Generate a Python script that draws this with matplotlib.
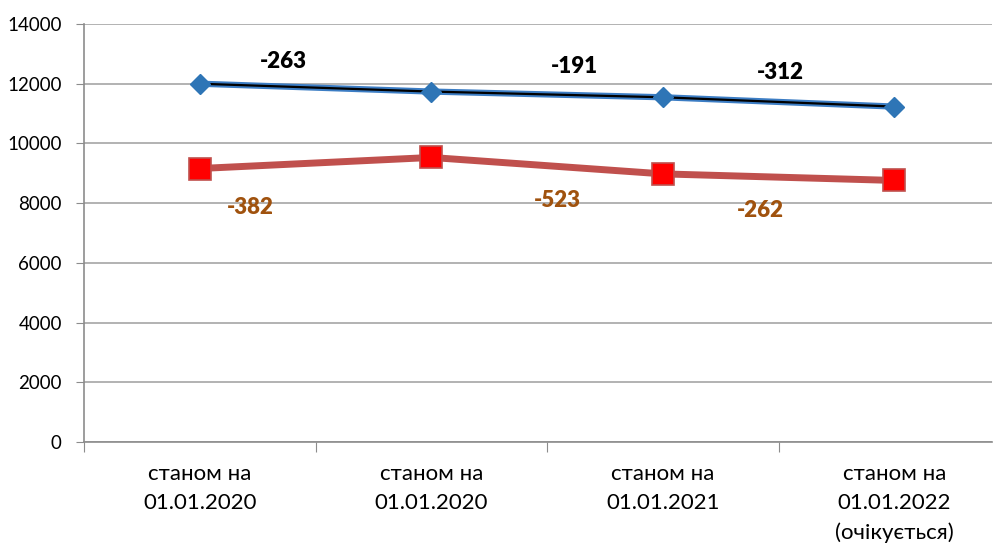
import matplotlib.pyplot as plt
from matplotlib.ticker import FixedLocator

plt.rcParams['font.family'] = ['Lato', 'DejaVu Sans']

# data
categories = ['станом на\n01.01.2020', 'станом на\n01.01.2020',
              'станом на\n01.01.2021', 'станом на\n01.01.2022\n(очікується)']
blue_vals = [12000, 11737, 11546, 11234]
red_vals = [9160, 9530, 8980, 8760]

# change labels: text, x (category units), y (data units)
blue_notes = ['-263', '-191', '-312']
blue_note_x = [0.36, 1.62, 2.51]
blue_note_y = [12730, 12560, 12360]
red_notes = ['-382', '-523', '-262']
red_note_x = [0.22, 1.545, 2.42]
red_note_y = [7840, 8100, 7770]

fig = plt.figure(figsize=(9.96, 5.52), dpi=100)
ax = fig.add_axes([84 / 996, 1 - 442 / 552, (992 - 84) / 996, (442 - 24) / 552])

x = list(range(len(categories)))

# blue series: thick blue line with thin black line on top
ax.plot(x, blue_vals, color='#3C7DC4', lw=4.5, zorder=3, solid_capstyle='round')
ax.plot(x, blue_vals, color='black', lw=1.6, zorder=4)
ax.plot(x, blue_vals, ls='none', marker='D', ms=10.5, color='#2E75B6',
        mec='#2E75B6', zorder=5)

# red series
ax.plot(x, red_vals, color='#C0504D', lw=5, zorder=3,
        marker='s', ms=16, mfc='#FF0000', mec='#C0504D', mew=1.2)

for t, xx, yy in zip(blue_notes, blue_note_x, blue_note_y):
    ax.text(xx, yy, t, ha='center', va='center', fontsize=16,
            fontweight='heavy', color='black')
for t, xx, yy in zip(red_notes, red_note_x, red_note_y):
    ax.text(xx, yy, t, ha='center', va='center', fontsize=16,
            fontweight='heavy', color='#A0520E')

ax.set_ylim(0, 14000)
ax.set_xlim(-0.5, -0.5 + (992 - 84) / 231.5)
ax.set_yticks(range(0, 14001, 2000))
ax.tick_params(axis='y', labelsize=13.5, length=6, color='#8C8C8C', pad=10)
ax.grid(axis='y', color='#A6A6A6', lw=1.2)
ax.set_axisbelow(True)

# category boundaries as major ticks, labels on minor ticks
ax.xaxis.set_major_locator(FixedLocator([-0.5, 0.5, 1.5, 2.5, 3.5]))
ax.set_xticklabels([])
ax.xaxis.set_minor_locator(FixedLocator(x))
ax.set_xticklabels(categories, minor=True, fontsize=16, linespacing=1.55)
ax.tick_params(axis='x', which='major', length=7, color='#8C8C8C')
ax.tick_params(axis='x', which='minor', length=0, pad=16)

for s in ['top', 'right']:
    ax.spines[s].set_visible(False)
for s in ['left', 'bottom']:
    ax.spines[s].set_color('#8C8C8C')
    ax.spines[s].set_linewidth(1.2)

fig.savefig('out.png', dpi=100)
